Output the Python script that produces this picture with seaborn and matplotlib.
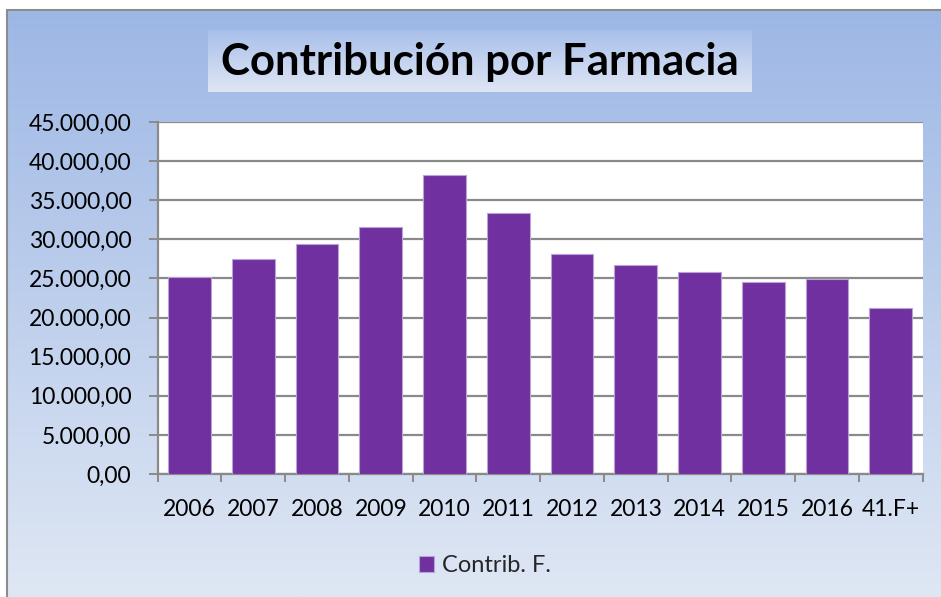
import numpy as np
import pandas as pd
import matplotlib
matplotlib.use("Agg")
import matplotlib.pyplot as plt
from matplotlib.ticker import FuncFormatter, FixedLocator
import seaborn as sns

categories = ["2006", "2007", "2008", "2009", "2010", "2011", "2012", "2013", "2014", "2015", "2016", "41.F+"]
values = [25150, 27450, 29370, 31620, 38180, 33330, 28080, 26720, 25780, 24500, 24890, 21180]
series_name = "Contrib. F."
title = "Contribución por Farmacia"
y_ticks = [0, 5000, 10000, 15000, 20000, 25000, 30000, 35000, 40000, 45000]

sns.set_theme(style="white")
plt.rcParams['font.family'] = ['Lato', 'DejaVu Sans']

W, H = 941, 597
fig = plt.figure(figsize=(W / 100, H / 100), dpi=100)
fig.patch.set_facecolor("white")

def fx(px):
    return px / W

def fy(py):
    return 1 - py / H

# background gradient frame
bg = fig.add_axes([fx(7), 0, 1 - fx(7), fy(10)], zorder=0)
grad = np.linspace(0, 1, 256).reshape(-1, 1)
top_c = np.array([0x9D, 0xB7, 0xE5]) / 255
bot_c = np.array([0xDF, 0xE7, 0xF4]) / 255
img = top_c[None, None, :] * (1 - grad[:, :, None]) + bot_c[None, None, :] * grad[:, :, None]
bg.imshow(img, aspect="auto", extent=[0, 1, 0, 1], origin="upper")
bg.set_xlim(0, 1)
bg.set_ylim(0, 1)
bg.axis("off")
fig.add_artist(plt.Line2D([fx(7), fx(7)], [0, fy(10)], color="#8C8C8C", lw=1.5, zorder=1))
fig.add_artist(plt.Line2D([fx(7), 1], [fy(10), fy(10)], color="#8C8C8C", lw=1.5, zorder=1))

# title box with gradient
tb = fig.add_axes([fx(208), fy(92), fx(752 - 208), (92 - 30) / H], zorder=2)
t_top = np.array([0xA9, 0xC0, 0xEA]) / 255
t_bot = np.array([0xDF, 0xE6, 0xF5]) / 255
timg = t_top[None, None, :] * (1 - grad[:, :, None]) + t_bot[None, None, :] * grad[:, :, None]
tb.imshow(timg, aspect="auto", extent=[0, 1, 0, 1], origin="upper")
tb.set_xlim(0, 1)
tb.set_ylim(0, 1)
tb.axis("off")
tb.text(0.5, 0.48, title, ha="center", va="center", fontsize=31.5, fontweight="bold",
        color="black", transform=tb.transAxes)

# main axes
ax = fig.add_axes([fx(157.7), fy(474), fx(922.7 - 157.7), (474 - 122) / H], zorder=3)
ax.set_facecolor("white")
df = pd.DataFrame({"cat": categories, "val": values})
sns.barplot(data=df, x="cat", y="val", color="#7030A0", saturation=1, width=0.67,
            edgecolor="#B9A3D6", linewidth=0.8, ax=ax, zorder=3, label=series_name)
handles, labels = ax.get_legend_handles_labels()
if ax.get_legend() is not None:
    ax.get_legend().remove()

ax.set_ylim(0, 45000)
ax.set_xlim(-0.5, len(categories) - 0.5)
ax.yaxis.set_major_locator(FixedLocator(y_ticks))

def es_fmt(v, pos):
    s = f"{v:,.2f}"
    return s.replace(",", "X").replace(".", ",").replace("X", ".")

ax.yaxis.set_major_formatter(FuncFormatter(es_fmt))
ax.grid(axis="y", color="#8A8A8A", linewidth=1.6, zorder=0)
ax.set_axisbelow(True)
ax.set_xlabel("")
ax.set_ylabel("")

for s in ["top", "right"]:
    ax.spines[s].set_visible(False)
for s in ["left", "bottom"]:
    ax.spines[s].set_color("#8A8A8A")
    ax.spines[s].set_linewidth(1.6)

ax.tick_params(axis="y", which="major", left=True, length=6.5, width=1.4, color="#8A8A8A",
               pad=12.5, labelsize=16.5, labelcolor="black")
ax.tick_params(axis="x", which="major", bottom=False, length=0, pad=18, labelsize=16.5,
               labelcolor="black")
ax.set_xticks(np.arange(len(categories) + 1) - 0.5, minor=True)
ax.tick_params(axis="x", which="minor", bottom=True, length=6, width=1.4, color="#8A8A8A")

leg = fig.legend(handles[:1], [series_name], loc="center", bbox_to_anchor=(fx(485), fy(566)),
                 frameon=False, fontsize=17, handlelength=0.65, handleheight=0.65,
                 handletextpad=0.35)

fig.savefig("out.png", dpi=100)
